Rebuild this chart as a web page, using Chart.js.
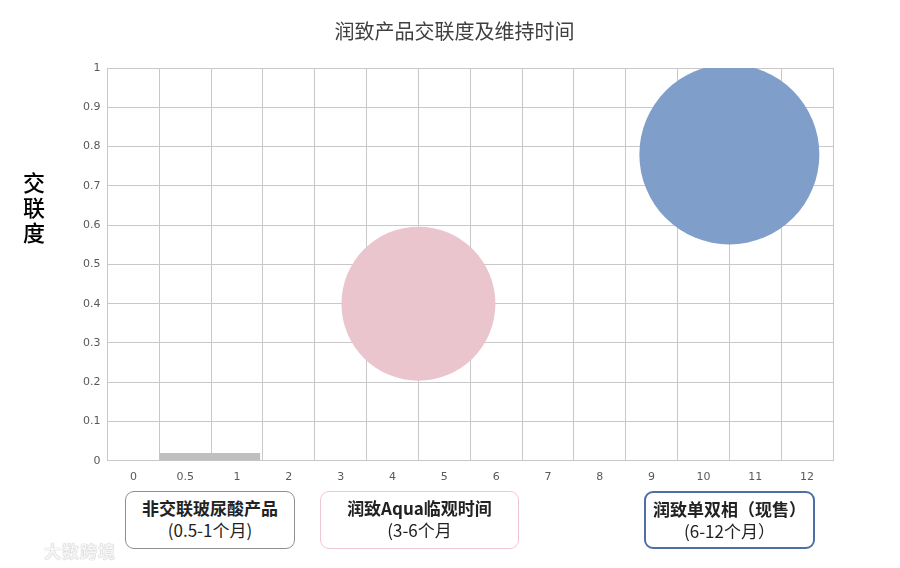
<!DOCTYPE html>
<html>
<head>
<meta charset="utf-8">
<script src="https://cdn.jsdelivr.net/npm/chart.js@4.4.1/dist/chart.umd.min.js"></script>
<style>
  html, body { margin: 0; padding: 0; background: #fff; }
  #wrap { position: relative; width: 900px; height: 568px; overflow: hidden;
          font-family: "Noto Sans CJK SC", "Noto Sans", sans-serif; }
  #c { position: absolute; left: 0; top: 0; }
  .ytitle { position: absolute; left: 21px; top: 169px; width: 26px; text-align: center;
            font-size: 22px; line-height: 25px; font-weight: 500; color: #000; }
  .box { position: absolute; top: 491px; height: 58px; box-sizing: border-box;
         border-radius: 9px; text-align: center; color: #222; font-size: 17px; line-height: 22px;
         padding-top: 5px; background: #fff; }
  .box b { font-weight: 700; }
  .b1 { left: 125px; width: 170px; border: 1.6px solid #8f8f8f; }
  .b2 { left: 320px; width: 199px; border: 1.4px solid #f0c6d0; }
  .b3 { left: 644px; width: 171px; border: 2px solid #4d6fa5; }
  .wm { position: absolute; left: 44px; top: 538px; font-size: 17px; color: #f6f6f6;
        font-weight: 700; letter-spacing: 1px; text-shadow: 0 0 1px #b8b8b8, 0 0 1px #c8c8c8; }
</style>
</head>
<body>
<div id="wrap">
  <canvas id="c" width="900" height="568"></canvas>
  <div class="ytitle">交<br>联<br>度</div>
  <div class="box b1"><b>非交联玻尿酸产品</b><br>(0.5-1个月)</div>
  <div class="box b2"><b>润致Aqua临观时间</b><br>(3-6个月</div>
  <div class="box b3"><b>润致单双相（现售）</b><br>(6-12个月）</div>
  <div class="wm">大数跨境</div>
</div>
<script>
// Category tick labels (months)
const monthLabels = ['0', '0.5', '1', '2', '3', '4', '5', '6', '7', '8', '9', '10', '11', '12'];
// Gray band: non-crosslinked HA (x in column units, y = crosslink degree)
const hyaluronicX = [1, 2.95];
const hyaluronicY = [0.02, 0.02];
// Bubbles: x position (column units), crosslink degree, bubble radius
const aquaX = [6];
const aquaY = [0.4];
const aquaR = [77];
const currentX = [12];
const currentY = [0.78];
const currentR = [90];
const yTicks = [0, 0.1, 0.2, 0.3, 0.4, 0.5, 0.6, 0.7, 0.8, 0.9, 1];

const toPoints = (xs, ys, rs) => xs.map((x, i) => rs ? {x, y: ys[i], r: rs[i]} : {x, y: ys[i]});

new Chart(document.getElementById('c'), {
  type: 'bubble',
  data: {
    datasets: [
      {
        type: 'line', label: '非交联玻尿酸产品', xAxisID: 'xl', yAxisID: 'y',
        data: toPoints(hyaluronicX, hyaluronicY),
        fill: 'origin', backgroundColor: '#bfbfbf', borderWidth: 0, pointRadius: 0,
        order: 3
      },
      {
        label: '润致Aqua', xAxisID: 'xl', yAxisID: 'y',
        data: toPoints(aquaX, aquaY, aquaR),
        backgroundColor: '#ebc5cd', borderWidth: 0, order: 2
      },
      {
        label: '润致单双相', xAxisID: 'xl', yAxisID: 'y',
        data: toPoints(currentX, currentY, currentR),
        backgroundColor: '#7f9ec9', borderWidth: 0, order: 1
      }
    ]
  },
  options: {
    responsive: false,
    animation: false,
    devicePixelRatio: 1,
    layout: { autoPadding: false, padding: { left: 76, right: 67, top: 10, bottom: 74 } },
    plugins: {
      legend: { display: false },
      tooltip: { enabled: false },
      title: {
        display: true, text: '润致产品交联度及维持时间',
        color: '#404040', font: { size: 20, family: '"Noto Sans CJK SC", sans-serif', weight: 'normal' },
        padding: { top: 9, bottom: 25 }
      }
    },
    scales: {
      x: {
        type: 'category', labels: monthLabels, position: 'bottom', offset: true,
        grid: { offset: true, color: '#c8c8c8', lineWidth: 1, drawTicks: false },
        border: { color: '#c8c8c8' },
        ticks: { color: '#595959', font: { size: 11, family: '"DejaVu Sans", sans-serif' }, padding: 10, maxRotation: 0 }
      },
      xl: { type: 'linear', min: 0, max: 14, display: false },
      y: {
        type: 'linear', min: 0, max: 1,
        afterBuildTicks: s => { s.ticks = yTicks.map(v => ({value: v})); },
        grid: { color: '#c8c8c8', lineWidth: 1, drawTicks: false },
        border: { color: '#c8c8c8' },
        ticks: { color: '#595959', font: { size: 11, family: '"DejaVu Sans", sans-serif' }, padding: 7,
                 callback: v => String(Math.round(v * 10) / 10) }
      }
    }
  }
});
</script>
</body>
</html>
